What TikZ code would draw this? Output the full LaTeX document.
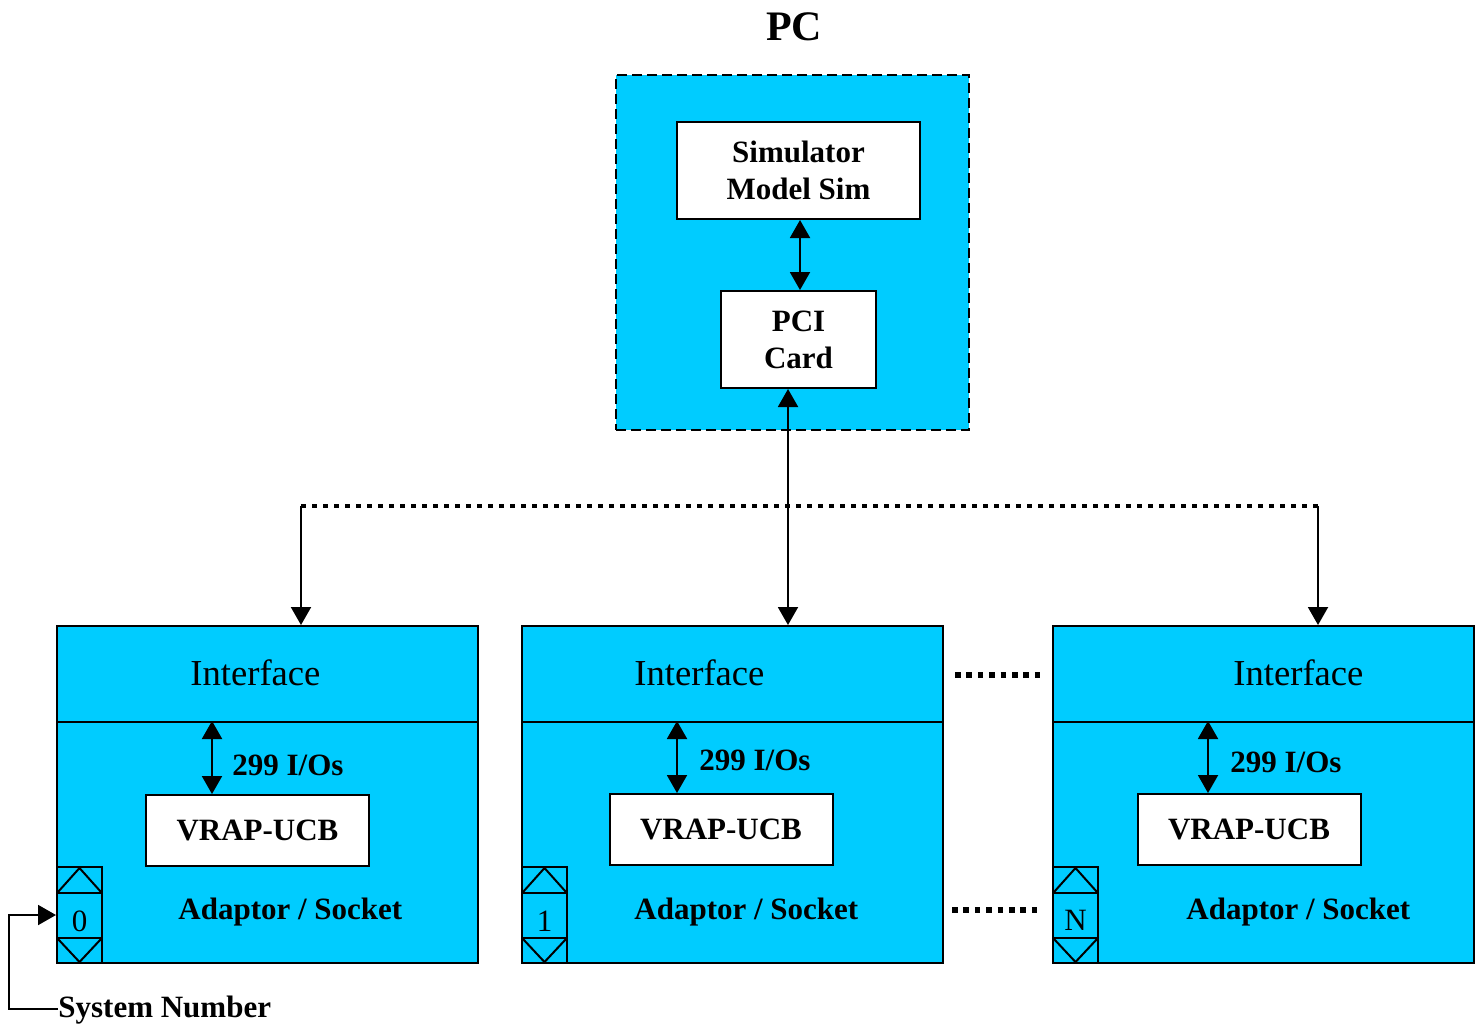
\documentclass[tikz,border=0pt]{standalone}
\usepackage{fontspec}
\setmainfont{Liberation Serif}
\usetikzlibrary{arrows.meta}
\definecolor{cy}{RGB}{0,204,255}
\newcommand\boldtxt{\fontsize{15.5}{18.5}\bfseries\selectfont}
\newcommand\mkspin[5]{%
  \node[cbox,minimum width=22.5pt,minimum height=48pt] (#1) at (#2,#3) {};
  \draw[conn] ([yshift=-13.5pt]#1.north west) -- ([yshift=-13.5pt]#1.north east);
  \draw[conn] ([yshift=13pt]#1.south west) -- ([yshift=13pt]#1.south east);
  \draw[conn] ([shift={(1pt,-13pt)}]#1.north west) -- ([yshift=-1pt]#1.north) -- ([shift={(-1pt,-13pt)}]#1.north east);
  \draw[conn] ([shift={(1pt,12.5pt)}]#1.south west) -- ([yshift=1pt]#1.south) -- ([shift={(-1pt,12.5pt)}]#1.south east);
  \node[font=\fontsize{15.5}{18}\selectfont,inner sep=0pt,anchor=base] (#1l) at (#2,#5) {#4};
}
\begin{document}
\begin{tikzpicture}[x=0.5pt,y=-0.5pt,
  box/.style={draw,line width=1pt,inner sep=0pt,anchor=center},
  wbox/.style={box,fill=white,font=\boldtxt,align=center},
  cbox/.style={box,fill=cy},
  conn/.style={line width=1pt},
  tip/.style={-{Triangle[width=10pt,length=9pt]}},
  dtip/.style={{Triangle[width=10pt,length=9pt]}-{Triangle[width=10pt,length=9pt]}},
  bl/.style={font=\boldtxt,inner sep=0pt,anchor=base west},
  ifl/.style={font=\fontsize{18.3}{20}\selectfont,inner sep=0pt,anchor=base west},
  bus/.style={line width=2.4pt,dash pattern=on 2.4pt off 3.1pt},
  gapdots/.style={line width=2.8pt,dash pattern=on 2.8pt off 2.9pt},
  ifhead/.style={cbox,minimum width=210.5pt,minimum height=48pt},
  iflow/.style={cbox,minimum width=210.5pt,minimum height=120.5pt},
  vrap/.style={wbox,minimum width=111.5pt,minimum height=35.5pt}
]
\useasboundingbox (0,0) rectangle (1481,1024);

% PC
\node[font=\fontsize{21}{24}\bfseries\selectfont,inner sep=0pt,anchor=base] (pct) at (794,40) {PC};
\node[box,fill=cy,dash pattern=on 5pt off 2.5pt,minimum width=176.5pt,minimum height=177.5pt] (pc) at (792.5,252.5) {};
\node[wbox,minimum width=121.5pt,minimum height=48.5pt] (sim) at (798.5,170.5) {Simulator\\Model Sim};
\node[wbox,minimum width=77.5pt,minimum height=48.5pt] (pci) at (798.5,339.5) {PCI\\Card};
\coordinate (sx) at (800,250);
\draw[conn,dtip] (sim.south -| sx) -- (pci.north -| sx);

% interface boxes
\node[ifhead] (if0) at (267.5,674) {};
\node[iflow] (ad0) at (267.5,842.5) {};
\node[ifhead] (if1) at (732.5,674) {};
\node[iflow] (ad1) at (732.5,842.5) {};
\node[ifhead] (ifN) at (1263,674) {};
\node[iflow] (adN) at (1263,842.5) {};

\node[ifl] (t0) at (190,685) {Interface};
\node[ifl] (t1) at (634,685) {Interface};
\node[ifl] (tN) at (1233,685) {Interface};

\node[vrap] (vr0) at (257.5,830.5) {VRAP-UCB};
\node[vrap] (vr1) at (721,829.5) {VRAP-UCB};
\node[vrap] (vrN) at (1249,829.5) {VRAP-UCB};

\coordinate (a0) at (212,760);
\coordinate (a1) at (677,760);
\coordinate (aN) at (1208,760);
\draw[conn,dtip] (ad0.north -| a0) -- (vr0.north -| a0);
\draw[conn,dtip] (ad1.north -| a1) -- (vr1.north -| a1);
\draw[conn,dtip] (adN.north -| aN) -- (vrN.north -| aN);
\node[bl] (io0) at (232,775) {299 I/Os};
\node[bl] (io1) at (699,770) {299 I/Os};
\node[bl] (ioN) at (1230,772) {299 I/Os};

\node[bl] (as0) at (178,919) {Adaptor / Socket};
\node[bl] (as1) at (634,919) {Adaptor / Socket};
\node[bl] (asN) at (1186,919) {Adaptor / Socket};

\mkspin{sp0}{79.5}{915}{0}{931}
\mkspin{sp1}{544.5}{915}{1}{931}
\mkspin{spN}{1075.5}{915}{N}{930}

% bus
\coordinate (busL) at (301,506);
\coordinate (busR) at (1318,506);
\coordinate (busM) at (788,506);
\draw[bus] (busL) -- (busR);
\draw[conn,tip] (busL) -- (busL |- if0.north);
\draw[conn,tip] (busR) -- (busR |- ifN.north);
\draw[conn,dtip] (pci.south -| busM) -- (busM |- if1.north);

% gap dots
\coordinate (g1a) at (955,675); \coordinate (g1b) at (1041,675);
\coordinate (g2a) at (952,910); \coordinate (g2b) at (1038,910);
\draw[gapdots] (g1a) -- (g1b);
\draw[gapdots] (g2a) -- (g2b);

% system number
\node[font=\boldtxt,inner sep=0pt,anchor=base west] (sysn) at (58,1017) {System Number};
\coordinate (sv) at (9,1009);
\draw[conn,tip] ([yshift=4pt]sysn.base west) -- (sv) |- (sp0.west);
\end{tikzpicture}
\end{document}
